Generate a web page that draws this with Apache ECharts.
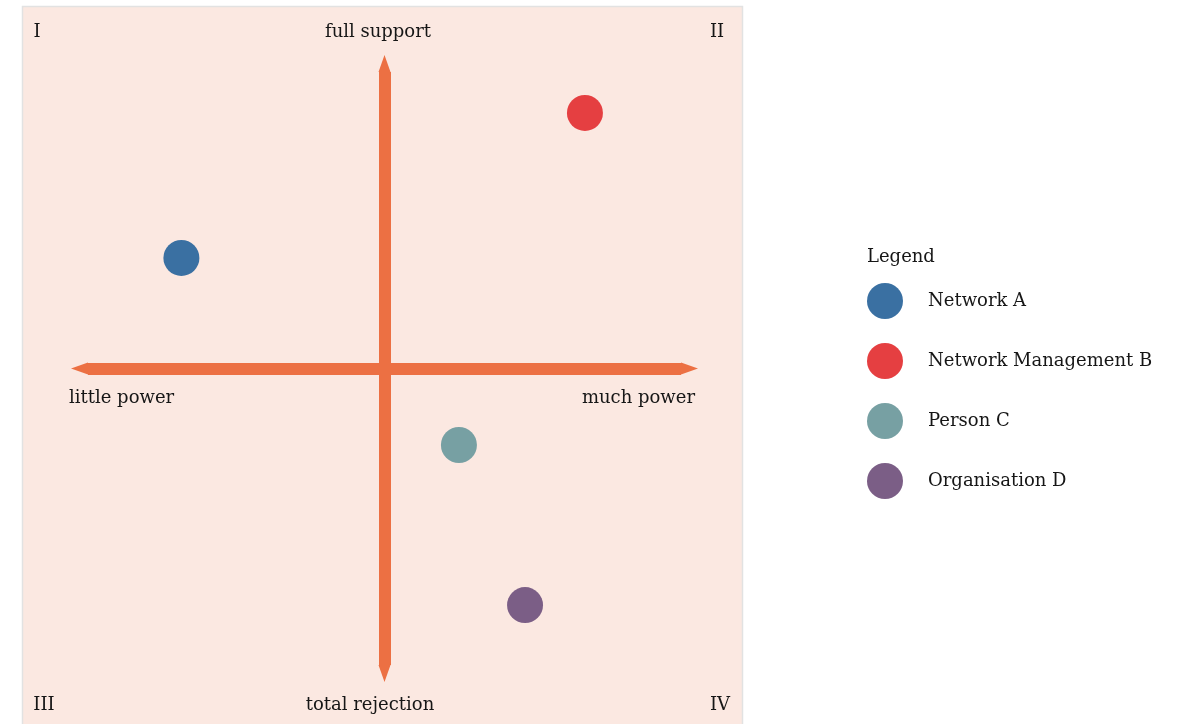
<!DOCTYPE html>
<html>
<head>
<meta charset="utf-8">
<script src="https://cdn.jsdelivr.net/npm/echarts@6/dist/echarts.min.js"></script>
<style>html,body{margin:0;padding:0;background:#fff;}#c{width:1186px;height:724px;}</style>
</head>
<body>
<div id="c"></div>
<script>
// Data
const names = ['Network A', 'Network Management B', 'Person C', 'Organisation D'];
const power = [-6.85, 6.76, 2.51, 4.74];      // x: little power (-10) .. much power (10)
const support = [3.73, 8.62, -2.58, -7.98];  // y: total rejection (-10) .. full support (10)
const colors = ['#3a70a2', '#e53f41', '#77a0a3', '#7b5e86'];
const axisLabels = { top: 'full support', bottom: 'total rejection', left: 'little power', right: 'much power' };
const quadrants = ['I', 'II', 'III', 'IV'];

const font = 'DejaVu Serif';
const textCol = '#161616';
const arrowCol = '#ec7043';

const chart = echarts.init(document.getElementById('c'), null, { renderer: 'canvas' });

const series = names.map((n, i) => ({
  name: n,
  type: 'scatter',
  data: [[power[i], support[i]]],
  symbol: 'circle',
  symbolSize: 36,
  itemStyle: { color: colors[i], opacity: 1 },
  z: 20
}));

const axisCommon = {
  type: 'value', min: -10, max: 10,
  axisLabel: { show: false }, axisTick: { show: false }, splitLine: { show: false },
  axisLine: {
    show: true, onZero: true,
    symbol: ['triangle', 'triangle'],
    symbolSize: [12, 17],
    symbolOffset: [-8.5, 8.5],
    lineStyle: { color: arrowCol, width: 12, cap: 'butt' }
  }
};

const txt = (x, y, s, align, vAlign) => ({
  type: 'text', x: x, y: y, z: 30,
  style: { text: s, font: '18px "' + font + '"', fill: textCol, textAlign: align, textVerticalAlign: vAlign || 'middle' }
});

chart.setOption({
  animation: false,
  backgroundColor: '#ffffff',
  grid: { left: 88, top: 72, width: 593, height: 593, containLabel: false },
  xAxis: Object.assign({}, axisCommon),
  yAxis: Object.assign({}, axisCommon),
  title: {
    text: 'Legend', left: 862, top: 243,
    textStyle: { fontFamily: font, fontSize: 18, fontWeight: 'normal', color: textCol }
  },
  legend: {
    orient: 'vertical', left: 862, top: 278,
    itemWidth: 36, itemHeight: 36, itemGap: 24,
    icon: 'circle',
    data: names,
    textStyle: { fontFamily: font, fontSize: 18, color: textCol, padding: [0, 0, 0, 20] }
  },
  graphic: [
    { type: 'rect', z: -10, shape: { x: 22.5, y: 6.5, width: 720, height: 740 },
      style: { fill: '#fbe8e1', stroke: '#e2e2e2', lineWidth: 1.5 } },
    txt(378, 32, axisLabels.top, 'center'),
    txt(370, 705, axisLabels.bottom, 'center'),
    txt(69, 398, axisLabels.left, 'left'),
    txt(695, 398, axisLabels.right, 'right'),
    txt(37, 32, quadrants[0], 'center'),
    txt(717, 32, quadrants[1], 'center'),
    txt(44, 705, quadrants[2], 'center'),
    txt(720, 705, quadrants[3], 'center')
  ],
  series: series
});
</script>
</body>
</html>
